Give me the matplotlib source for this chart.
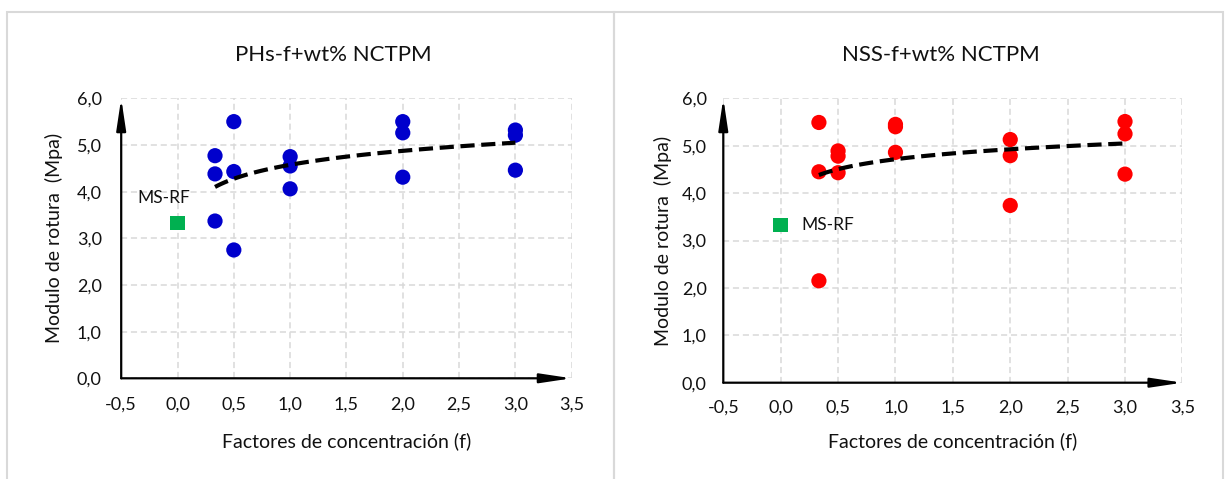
#!/usr/bin/env python
# -*- coding: utf-8 -*-

import numpy as np
import matplotlib
matplotlib.use("Agg")
import matplotlib.pyplot as plt
from matplotlib.patches import Rectangle

plt.rcParams['font.family'] = ['Lato', 'DejaVu Sans']

# Data
f_levels = [0.333, 0.333, 0.333, 0.5, 0.5, 0.5, 1.0, 1.0, 1.0, 2.0, 2.0, 2.0, 3.0, 3.0, 3.0]
phs_mr = [4.77, 4.38, 3.37, 5.50, 4.43, 2.75, 4.75, 4.55, 4.06, 5.50, 5.26, 4.31, 5.32, 5.21, 4.46]
nss_mr = [5.49, 4.45, 2.15, 4.89, 4.78, 4.43, 5.45, 5.40, 4.86, 5.13, 4.79, 3.74, 5.51, 5.25, 4.40]
ref_f = [0.0]
ref_mr = [3.33]

x_ticks = [-0.5, 0.0, 0.5, 1.0, 1.5, 2.0, 2.5, 3.0, 3.5]
y_ticks = [0.0, 1.0, 2.0, 3.0, 4.0, 5.0, 6.0]

W, H = 1226, 479


def fmt(v):
    return f"{v:.1f}".replace('.', ',')


def draw_panel(ax, y, color, title, title_pos, ylab_x, xlab_y, ytick_pad, xtick_pad, lbl_offset):
    ax.set_xlim(-0.5, 3.5)
    ax.set_ylim(0, 6)
    ax.set_xticks(x_ticks)
    ax.set_yticks(y_ticks)
    ax.set_xticklabels([fmt(v) for v in x_ticks])
    ax.set_yticklabels([fmt(v) for v in y_ticks])
    ax.tick_params(axis='both', length=0, labelsize=13, colors='#111111')
    ax.tick_params(axis='y', pad=ytick_pad)
    ax.tick_params(axis='x', pad=xtick_pad)
    ax.grid(True, color='#d9d9d9', linestyle=(0, (4, 2.5)), linewidth=1.1)
    ax.set_axisbelow(True)
    for s in ax.spines.values():
        s.set_visible(False)

    # axis arrows
    for end in [(0, 1), (1, 0)]:
        ax.annotate('', xy=end, xytext=(0, 0), xycoords='axes fraction',
                    arrowprops=dict(arrowstyle='-|>,head_length=1.0,head_width=0.15',
                                    lw=1.6, color='black', mutation_scale=19,
                                    shrinkA=0, shrinkB=0), annotation_clip=False)

    ax.scatter(f_levels, y, s=120, color=color, edgecolors='none', zorder=3)
    ax.scatter(ref_f, ref_mr, s=110, marker='s', color='#00b050', edgecolors='none', zorder=3)
    ax.annotate('MS-RF', xy=(ref_f[0], ref_mr[0]), xytext=lbl_offset, textcoords='offset points',
                ha='center', va='center', fontsize=12.5, color='#111111')

    # logarithmic trend line (as Excel)
    xs = np.array(f_levels)
    b, a = np.polyfit(np.log(xs), np.array(y), 1)
    xt = np.linspace(xs.min(), xs.max(), 100)
    ax.plot(xt, a + b * np.log(xt), color='black', linestyle=(0, (3.4, 1.6)), lw=3, zorder=4)

    ax.text(title_pos[0], title_pos[1], title, transform=ax.transAxes, ha='center', va='center',
            fontsize=16, color='#111111')
    ax.set_ylabel('Modulo de rotura  (Mpa)', fontsize=14, color='#111111')
    ax.yaxis.set_label_coords(ylab_x, 0.5)
    ax.yaxis.label.set_va('center')
    ax.set_xlabel('Factores de concentración (f)', fontsize=14, color='#111111')
    ax.xaxis.set_label_coords(0.5, xlab_y)
    ax.xaxis.label.set_va('center')


fig = plt.figure(figsize=(W / 100, H / 100), dpi=100)

# panel frames
fig.add_artist(Rectangle((7 / W, -0.05), (614 - 7) / W, 0.05 + 1 - 12 / H, transform=fig.transFigure,
                         fill=False, ec='#d9d9d9', lw=1.5))
fig.add_artist(Rectangle((614 / W, -0.05), (1223 - 614) / W, 0.05 + 1 - 12 / H, transform=fig.transFigure,
                         fill=False, ec='#d9d9d9', lw=1.5))

ax1 = fig.add_axes([121.2 / W, 1 - 378.3 / H, (571.7 - 121.2) / W, (378.3 - 98.3) / H])
ax2 = fig.add_axes([723.3 / W, 1 - 382.7 / H, (1182.4 - 723.3) / W, (382.7 - 98.3) / H])

draw_panel(ax1, phs_mr, '#0000cc', 'PHs-f+wt% NCTPM', (0.470, 1.155), -0.150, -0.223, 14, 13, (-10, 18))
draw_panel(ax2, nss_mr, '#ff0000', 'NSS-f+wt% NCTPM', (0.475, 1.152), -0.131, -0.204, 12, 12, (34, 0))

fig.savefig('out.png', dpi=100)
